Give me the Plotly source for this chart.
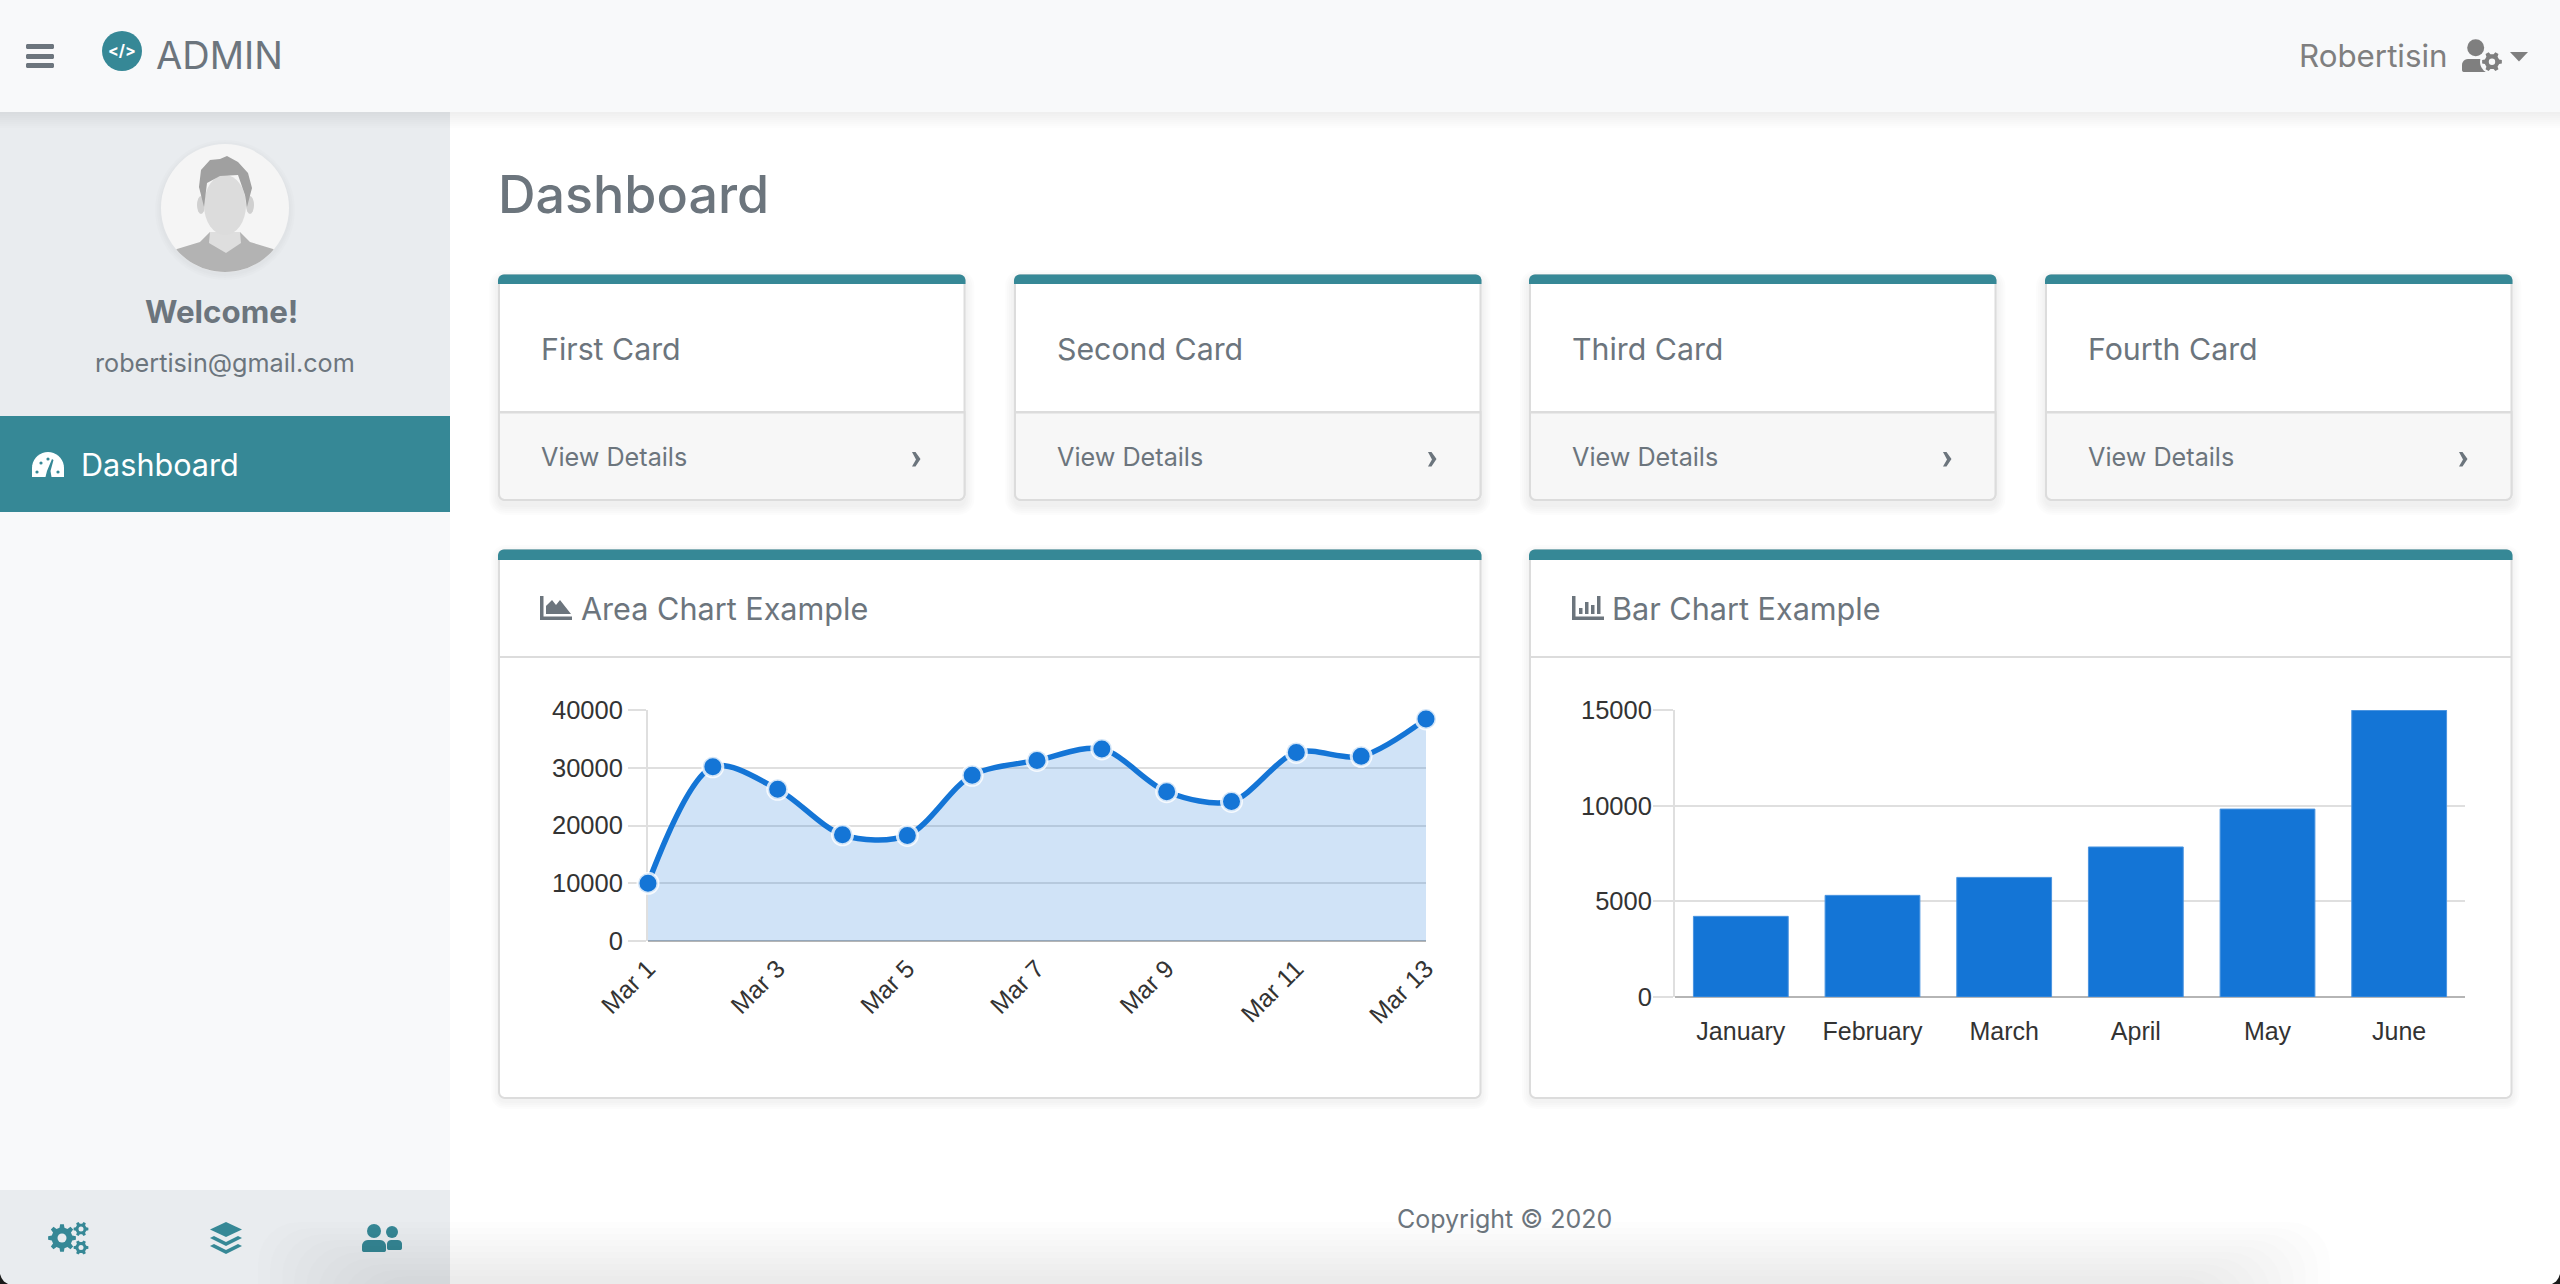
import math
import plotly.graph_objects as go

# ---------- data ----------
area_days = ["Mar 1", "Mar 2", "Mar 3", "Mar 4", "Mar 5", "Mar 6", "Mar 7",
             "Mar 8", "Mar 9", "Mar 10", "Mar 11", "Mar 12", "Mar 13"]
area_values = [10000, 30162, 26263, 18394, 18287, 28682, 31274,
               33259, 25849, 24159, 32651, 31984, 38451]
area_tick_labels = ["Mar 1", "Mar 3", "Mar 5", "Mar 7", "Mar 9", "Mar 11", "Mar 13"]
bar_months = ["January", "February", "March", "April", "May", "June"]
bar_values = [4215, 5312, 6251, 7841, 9821, 14984]
card_titles = ["First Card", "Second Card", "Third Card", "Fourth Card"]

# ---------- page geometry and colours ----------
W, H = 2560, 1284
TEAL = "#368896"
GREY = "#6c757d"
BORDER = "#dcdcdc"
BLUE = "#1475d6"
GRID = "#dfdfdf"
shapes, notes = [], []


def X(p):
    return p / W


def Y(p):
    return 1 - p / H


def poly(points, fill, line=None, lw=0):
    d = "M" + "L".join(f"{X(a):.5f},{Y(b):.5f}" for a, b in points) + "Z"
    shapes.append(dict(type="path", xref="paper", yref="paper", path=d, fillcolor=fill,
                       line=dict(color=line or "rgba(0,0,0,0)", width=lw), layer="below"))


def rect(x0, y0, x1, y1, fill):
    shapes.append(dict(type="rect", xref="paper", yref="paper", x0=X(x0), x1=X(x1), y0=Y(y0), y1=Y(y1),
                       fillcolor=fill, line=dict(width=0), layer="below"))


def circle(cx, cy, rx, fill, ry=None):
    ry = ry if ry is not None else rx
    shapes.append(dict(type="circle", xref="paper", yref="paper", x0=X(cx - rx), x1=X(cx + rx),
                       y0=Y(cy + ry), y1=Y(cy - ry), fillcolor=fill, line=dict(width=0), layer="below"))


def rr_points(x0, y0, x1, y1, rt, rb):
    pts = []
    for cx, cy, r, a0 in [(x1 - rb, y1 - rb, rb, 0), (x0 + rb, y1 - rb, rb, 90),
                          (x0 + rt, y0 + rt, rt, 180), (x1 - rt, y0 + rt, rt, 270)]:
        for i in range(7):
            a = math.radians(a0 + 15 * i)
            pts.append((cx + r * math.cos(a), cy + r * math.sin(a)))
    return pts


def rrect(x0, y0, x1, y1, fill, rt=6, rb=6, line=None, lw=0):
    poly(rr_points(x0, y0, x1, y1, rt, rb), fill, line, lw)


def shadow(x0, y0, x1, y1, spread=10, dy=4, alpha=0.012):
    for s in range(spread, 0, -2):
        rrect(x0 - s, y0 - s + dy, x1 + s, y1 + s + dy, f"rgba(0,0,0,{alpha})", 6 + s, 6 + s)


def text(px, py, s, size, color=GREY, anchor="left", family="Inter", weight=400):
    notes.append(dict(xref="paper", yref="paper", x=X(px), y=Y(py), text=s, showarrow=False,
                      xanchor=anchor, yanchor="middle", borderpad=0,
                      font=dict(family=family, size=size, color=color, weight=weight)))


def gear(cx, cy, ro, ri, hole, fill, holefill, teeth=8):
    pts = []
    step = 360 / teeth
    for i in range(teeth):
        base = i * step
        for off, r in [(-0.30, ri), (-0.17, ro), (0.17, ro), (0.30, ri)]:
            a = math.radians(base + off * step)
            pts.append((cx + r * math.cos(a), cy + r * math.sin(a)))
    poly(pts, fill)
    circle(cx, cy, hole, holefill)


# ---------- page chrome ----------
rect(0, 112, 450, H, "#f8f9fa")
rect(0, 112, 450, 416, "#e9ecef")
rect(0, 416, 450, 512, TEAL)
rect(0, 1190, 450, H, "#e9ecef")
for s in range(16, 0, -2):
    rect(0, 112, W, 112 + s, "rgba(0,0,0,0.007)")
rect(0, 0, W, 112, "#f8f9fa")

# hamburger and logo
for yy in (44, 54, 63):
    rrect(26, yy, 54, yy + 5, GREY, 1.5, 1.5)
circle(122, 51, 20, TEAL)
text(122, 50, "&lt;/&gt;", 16, "#ffffff", "center", weight=700)
text(155, 55, "ADMIN", 38)

# account block
ACC = "#7f7f7f"
text(2298, 56, "Robertisin", 31.3, ACC)
circle(2475.7, 47.7, 8.5, ACC)
rrect(2462, 59, 2490, 72, ACC, 6, 2)
circle(2492, 61.7, 12, "#f8f9fa")
gear(2492, 61.7, 10, 7.5, 3.2, ACC, "#f8f9fa", 6)
poly([(2510, 52), (2528, 52), (2519, 61.5)], ACC)

# avatar
for s in range(6, 0, -2):
    circle(225, 210, 64 + s, "rgba(0,0,0,0.012)")
circle(225, 208, 64, "#f5f5f5")
ang0 = math.degrees(math.atan2(249 - 208, 273 - 225))
body = [(177, 249), (200, 242), (210, 232), (240, 232), (250, 242), (273, 249)]
for i in range(25):
    a = math.radians(ang0 + (180 - 2 * ang0) * i / 24)
    body.append((225 + 64 * math.cos(a), 208 + 64 * math.sin(a)))
poly(body, "#b3b3b3")
poly([(210, 232), (240, 232), (241, 243), (226, 253), (209, 243)], "#dedede")
circle(201, 205, 4, "#d0d0d0", 9)
circle(250, 205, 4, "#d0d0d0", 9)
circle(225, 205, 21, "#dcdcdc", 30)
poly([(204, 207), (199, 187), (201, 170), (210, 160), (220, 159), (227, 156), (238, 162),
      (248, 173), (252, 188), (247, 207), (245, 195), (238, 175), (220, 176), (207, 183)], "#a0a0a0")
text(221, 312, "Welcome!", 31.3, GREY, "center", weight=700)
text(225, 363, "robertisin@gmail.com", 25.2, GREY, "center")

# sidebar menu item: gauge icon
gauge = [(32, 477)]
for i in range(0, 181, 10):
    a = math.radians(180 + i)
    gauge.append((48 + 16 * math.cos(a), 468 + 16 * math.sin(a)))
gauge.append((64, 477))
poly(gauge, "#ffffff")
for dx, dy in [(37, 472), (41, 463), (48, 459), (58, 472)]:
    circle(dx, dy, 1.6, TEAL)
poly([(52, 459), (53.5, 460), (50.5, 471), (51.5, 477), (45.5, 477), (47, 471)], TEAL)
text(80, 464, "Dashboard", 30.6, "#ffffff")

# sidebar bottom icons
gear(62, 1238, 14, 10.5, 4.5, TEAL, "#e9ecef", 8)
gear(81, 1229, 7.5, 5.5, 2.5, TEAL, "#e9ecef", 6)
gear(81, 1247.5, 7.5, 5.5, 2.5, TEAL, "#e9ecef", 6)
poly([(226, 1222), (242, 1229.5), (226, 1237), (210, 1229.5)], TEAL)
poly([(214, 1236), (226, 1242), (238, 1236), (242, 1238), (226, 1246), (210, 1238)], TEAL)
poly([(214, 1244), (226, 1250), (238, 1244), (242, 1246), (226, 1254), (210, 1246)], TEAL)
circle(374, 1231, 7, TEAL)
rrect(362, 1240, 386, 1252, TEAL, 6, 2)
circle(392, 1232, 6, TEAL)
poly(rr_points(387, 1240, 402, 1250, 4, 2), TEAL)

# main heading and footer
text(497, 194.5, "Dashboard", 52, GREY, weight=500)
text(1504, 1218.5, "Copyright © 2020", 25, GREY, "center")

# four small cards
card_lefts = [499, 1015, 1530, 2046]
CARD_W = 465.5
for left, title in zip(card_lefts, card_titles):
    right = left + CARD_W
    shadow(left, 275, right, 500, 10, 5)
    rrect(left, 275, right, 500, "#ffffff", 6, 6, BORDER, 2)
    rrect(left, 412, right, 500, "#f7f7f7", 0, 6, BORDER, 2)
    rrect(left - 1, 274.5, right + 1, 284, TEAL, 6, 0)
    rect(left, 411.5, right, 413.5, BORDER)
    text(left + 41, 349, title, 30.3)
    text(left + 41, 457, "View Details", 25.2)
    cx = right - 49
    poly([(cx - 3.5, 452), (cx, 452), (cx + 5, 459), (cx, 466.5), (cx - 3.5, 466.5), (cx + 0.5, 459.5)], GREY)

# two big cards
for left, right, title, tx in [(499, 1480.5, "Area Chart Example", 580),
                               (1530, 2511.5, "Bar Chart Example", 1611)]:
    shadow(left, 550, right, 1098, 8, 3, 0.01)
    rrect(left, 550, right, 1098, "#ffffff", 6, 6, BORDER, 2)
    rrect(left - 1, 549.5, right + 1, 560, TEAL, 6, 0)
    rect(left, 656, right, 658, BORDER)
    text(tx, 608, title, 30.6)

# chart card icons
rect(540, 596, 543.5, 620, GREY)
rect(540, 616.5, 572, 620, GREY)
poly([(546, 614), (546, 606), (552, 600), (556, 605), (560, 600), (571, 614)], GREY)
rect(1572, 596, 1575.5, 620, GREY)
rect(1572, 616.5, 1604, 620, GREY)
for bx, by in [(1579, 608), (1585, 602), (1591, 605), (1597, 596)]:
    rect(bx, by, bx + 3.5, 614, GREY)

# soft window shadow along the bottom edge
for i in range(10):
    rrect(258 + i * 12, 1222 + i * 6, 2330 - i * 12, 1320, "rgba(0,0,0,0.0068)", 40, 0)
# rounded window corners at the bottom
poly([(0, 1274), (1.5, 1278), (4, 1281.5), (8, 1284), (0, 1284)], "#1a1a1a")
poly([(W, 1274), (W - 1.5, 1278), (W - 4, 1281.5), (W - 8, 1284), (W, 1284)], "#1a1a1a")

# ---------- charts ----------
fig = go.Figure()
fig.add_trace(go.Scatter(
    x=area_days, y=area_values, xaxis="x", yaxis="y", mode="lines+markers", fill="tozeroy",
    fillcolor="rgba(20,117,214,0.2)", cliponaxis=False, hoverinfo="skip",
    line=dict(color=BLUE, width=5.5, shape="spline", smoothing=0.9),
    marker=dict(color=BLUE, size=20, line=dict(color="rgba(255,255,255,0.8)", width=3))))
fig.add_trace(go.Bar(
    x=bar_months, y=bar_values, xaxis="x2", yaxis="y2", hoverinfo="skip",
    marker=dict(color=BLUE, line=dict(color="#4b95e0", width=1))))

y_font = dict(family="Liberation Sans", size=25.5, color="#333333")
x_font = dict(family="Liberation Sans", size=25, color="#333333")
y_common = dict(showgrid=True, gridcolor=GRID, gridwidth=2, ticks="outside", tickwidth=2,
                tickcolor=GRID, showline=True, linecolor=GRID, linewidth=2, zeroline=True, layer="below traces",
                zerolinecolor="#b5b5b5", zerolinewidth=2, tickfont=y_font, automargin=False)

fig.update_layout(
    width=W, height=H, margin=dict(l=0, r=0, t=0, b=0), autosize=False, showlegend=False,
    paper_bgcolor="#ffffff", plot_bgcolor="rgba(0,0,0,0)", bargap=0.28, hovermode=False,
    shapes=shapes, annotations=notes,
    xaxis=dict(domain=[X(648), X(1426)], type="category", range=[0, 12], showgrid=False, zeroline=False,
               tickmode="array", tickvals=area_tick_labels, ticktext=area_tick_labels, tickangle=-45,
               tickfont=x_font, anchor="y", ticks="outside", ticklen=2, tickcolor="rgba(0,0,0,0)",
               showline=False, automargin=False),
    yaxis=dict(domain=[Y(941), Y(710)], range=[0, 40000], tickvals=[0, 10000, 20000, 30000, 40000],
               tickformat="d", anchor="x", ticklen=18, **y_common),
    xaxis2=dict(domain=[X(1675), X(2465)], type="category", showgrid=False, zeroline=False, tickfont=x_font,
                anchor="y2", ticks="outside", ticklen=12, tickcolor="rgba(0,0,0,0)", showline=False,
                automargin=False),
    yaxis2=dict(domain=[Y(997), Y(710)], range=[0, 15000], tickvals=[0, 5000, 10000, 15000],
                tickformat="d", anchor="x2", ticklen=20, ticklabelstandoff=-4, **y_common),
)

fig.write_html("out.html", config={"displayModeBar": False}, post_script="document.body.style.margin='0';")
